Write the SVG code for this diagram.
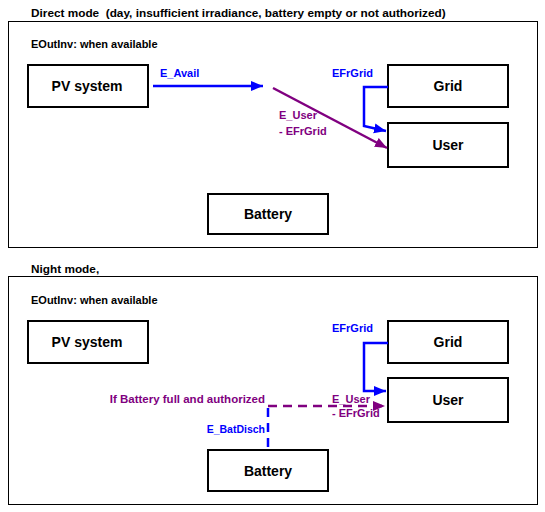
<svg xmlns="http://www.w3.org/2000/svg" width="545" height="512" viewBox="0 0 545 512">
<style>
text { font-family: "Liberation Sans", Arial, sans-serif; white-space: pre; }
.title { font-size: 11.8px; font-weight: bold; fill: #000; }
.note { font-size: 11px; font-weight: bold; fill: #000; }
.frame { fill: none; stroke: #000; stroke-width: 1; }
.box { fill: #fff; stroke: #000; stroke-width: 2; }
.lbl { font-size: 14px; font-weight: bold; text-anchor: middle; fill: #000; }
.bl { font-size: 11px; font-weight: bold; fill: #0000ff; }
.pu { font-size: 11px; font-weight: bold; fill: #800080; }
.cb { fill: none; stroke: #0000ff; stroke-width: 2.5; }
.cp { fill: none; stroke: #800080; stroke-width: 2.5; }
.dash { stroke-dasharray: 9 6; }
</style>
<defs>
<marker id="ab" markerUnits="userSpaceOnUse" markerWidth="13" markerHeight="11" refX="12" refY="5" orient="auto">
<path d="M0,0 L12,5 L0,10 z" fill="#0000ff"/>
</marker>
<marker id="ap" markerUnits="userSpaceOnUse" markerWidth="13" markerHeight="11" refX="12" refY="5" orient="auto">
<path d="M0,0 L12,5 L0,10 z" fill="#800080"/>
</marker>
</defs>
<rect width="545" height="512" fill="#fff"/>

<!-- Top panel -->
<g id="panel-direct">
<text class="title" x="31" y="17" xml:space="preserve">Direct mode  (day, insufficient irradiance, battery empty or not authorized)</text>
<rect class="frame" x="8.5" y="21.5" width="529" height="226"/>
<text class="note" x="31" y="48">EOutInv: when available</text>
</g>
<g id="pv1"><rect class="box" x="28" y="65" width="120" height="42"/><text class="lbl" x="87" y="91">PV system</text></g>
<g id="grid1"><rect class="box" x="388" y="65" width="120" height="42"/><text class="lbl" x="448" y="91">Grid</text></g>
<g id="user1"><rect class="box" x="388" y="123" width="120" height="44"/><text class="lbl" x="448" y="150">User</text></g>
<g id="battery1"><rect class="box" x="208" y="194" width="120" height="40"/><text class="lbl" x="268" y="219">Battery</text></g>

<!-- Bottom panel -->
<g id="panel-night">
<text class="title" x="31" y="273">Night mode,</text>
<rect class="frame" x="8.5" y="276.5" width="529" height="228"/>
<text class="note" x="31" y="304">EOutInv: when available</text>
</g>
<g id="pv2"><rect class="box" x="28" y="321" width="120" height="42"/><text class="lbl" x="87" y="347">PV system</text></g>
<g id="grid2"><rect class="box" x="388" y="321" width="120" height="42"/><text class="lbl" x="448" y="347">Grid</text></g>
<g id="user2"><rect class="box" x="388" y="378" width="120" height="44"/><text class="lbl" x="448" y="405">User</text></g>
<g id="battery2"><rect class="box" x="208" y="450" width="120" height="41"/><text class="lbl" x="268" y="476">Battery</text></g>

<g id="connectors">
<path class="cb" d="M153,86 H263" marker-end="url(#ab)"/>
<text class="bl" x="160" y="77">E_Avail</text>
<path class="cp" d="M273,88 L387,148" marker-end="url(#ap)"/>
<text class="pu" x="279" y="119">E_User</text>
<text class="pu" x="279" y="135">- EFrGrid</text>
<path class="cb" d="M388,87 H364 V126 L386,131" marker-end="url(#ab)"/>
<text class="bl" x="332" y="77">EFrGrid</text>

<path class="cb" d="M388,343 H364 V391 H386" marker-end="url(#ab)"/>
<text class="bl" x="332" y="332">EFrGrid</text>
<path class="cb dash" d="M268,447 V406"/>
<path class="cp dash" d="M268,406 H385" marker-end="url(#ap)"/>
<text class="pu" x="265" y="403" text-anchor="end" style="font-size:11.5px">If Battery full and authorized</text>
<text class="bl" x="265" y="433" text-anchor="end" style="font-size:10.5px">E_BatDisch</text>
<text class="pu" x="332" y="403">E_User</text>
<text class="pu" x="332" y="417">- EFrGrid</text>
</g>
</svg>
